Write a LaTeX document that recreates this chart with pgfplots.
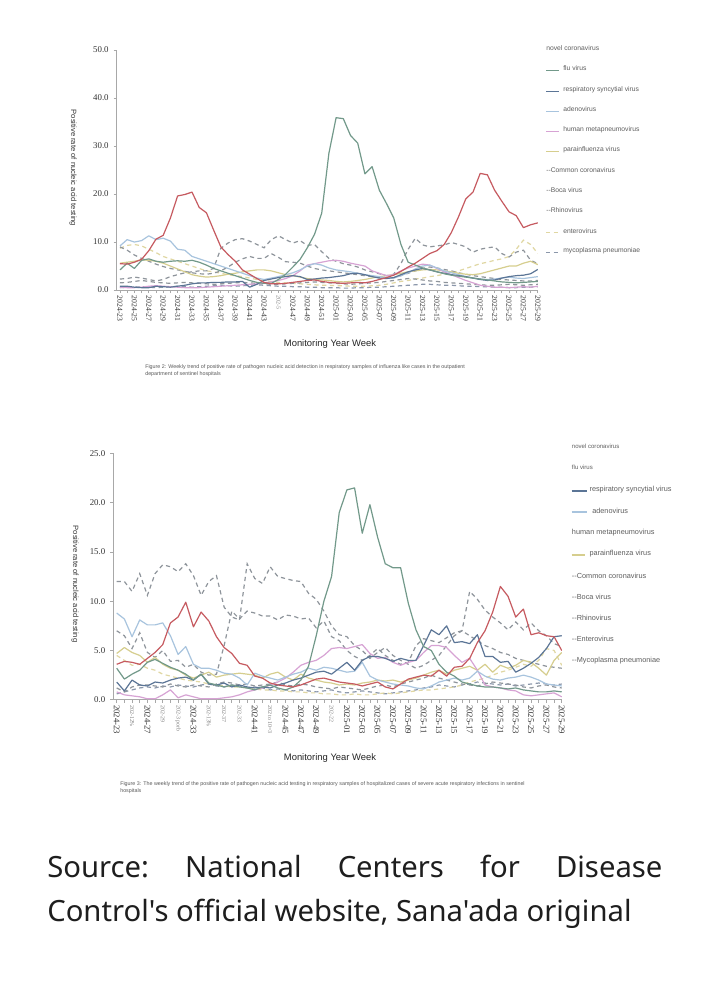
\documentclass[border=0pt]{standalone}
\usepackage{fontspec}
\setmainfont{Liberation Serif}
\setsansfont{Liberation Sans}
\newfontfamily\srcfont{Noto Sans}
\usepackage{pgfplots}
\pgfplotsset{compat=1.18}

\definecolor{cov}{HTML}{C65A60}
\definecolor{flu}{HTML}{72998A}
\definecolor{rsv}{HTML}{5B7596}
\definecolor{adv}{HTML}{A8C4DE}
\definecolor{hmpv}{HTML}{D7A3D4}
\definecolor{piv}{HTML}{D6CE8E}
\definecolor{dsh}{HTML}{8E949B}
\definecolor{ev}{HTML}{E0D7A2}
\definecolor{mp}{HTML}{8B97AA}
\definecolor{axgray}{HTML}{A8A8A8}
\definecolor{lgtxt}{HTML}{5E5E5E}
\definecolor{srccol}{HTML}{1E1E1E}

\newcommand\odd{\color{black!50}\fontsize{4.2}{5}\selectfont}
\newcommand\lgf{\sffamily\fontsize{4.8}{5.5}\selectfont}
\newcommand\lgb{\sffamily\fontsize{5.2}{6}\selectfont}
\newcommand\lgs{\sffamily\fontsize{4.3}{5}\selectfont}

\pgfplotsset{
  table/wk/.style={x expr=\coordindex, y index=0, header=false, row sep=\\},
  sl/.style={line width=0.85pt, line join=round},
  dl/.style={line width=0.85pt, dash pattern=on 3pt off 2.5pt},
  panel/.style={
    scale only axis, anchor=south west,
    axis x line*=bottom, axis y line*=left,
    axis line style={axgray, line width=0.6pt},
    tick style={axgray, line width=0.5pt},
    tick align=outside, major tick length=2.2pt, minor tick length=2.2pt,
    ymin=0, xmax=58, no markers,
    xtick={0,2,...,58}, minor xtick={1,3,...,57},
    yticklabel style={font=\fontsize{6.3}{7}\selectfont, text=black!80,
      /pgf/number format/.cd, fixed, fixed zerofill, precision=1, assume math mode=true},
    xticklabel style={rotate=-90, anchor=west, inner sep=1.5pt, text=black!80},
  },
}

\begin{document}
\begin{tikzpicture}
\begin{scope}[x=0.025cm, y=-0.025cm, shift={(0,25cm)}]
\path[use as bounding box, fill=white] (0,0) rectangle (719,1000);

% axis titles
\node[rotate=-90, font=\sffamily\fontsize{5.4}{6}\selectfont, text=black!80] at (73,168) {Positive rate of nucleic acid testing};
\node[font=\sffamily\fontsize{6.7}{8}\selectfont, text=black!85] at (330,344) {Monitoring Year Week};
\node[rotate=-90, font=\sffamily\fontsize{5.4}{6}\selectfont, text=black!80] at (75,584) {Positive rate of nucleic acid testing};
\node[font=\sffamily\fontsize{6.7}{8}\selectfont, text=black!85] at (330,758) {Monitoring Year Week};

% captions
\node[anchor=west, inner sep=0, font=\sffamily\fontsize{3.8}{4.5}\selectfont, text=black!65] at (145,367) {Figure 2: Weekly trend of positive rate of pathogen nucleic acid detection in respiratory samples of influenza like cases in the outpatient};
\node[anchor=west, inner sep=0, font=\sffamily\fontsize{3.8}{4.5}\selectfont, text=black!65] at (145,374) {department of sentinel hospitals};
\node[anchor=west, inner sep=0, font=\sffamily\fontsize{3.8}{4.5}\selectfont, text=black!65] at (120,784) {Figure 3: The weekly trend of the positive rate of pathogen nucleic acid testing in respiratory samples of hospitalized cases of severe acute respiratory infections in sentinel};
\node[anchor=west, inner sep=0, font=\sffamily\fontsize{3.8}{4.5}\selectfont, text=black!65] at (120,791) {hospitals};

% top legend
\begin{scope}[every node/.style={anchor=west, inner sep=0, text=lgtxt, font=\lgf}]
\node at (546,48.3) {novel coronavirus};
\draw[flu, line width=0.8pt] (546,70.5) -- (559,70.5); \node at (563,68.3) {flu virus};
\draw[rsv, line width=0.8pt] (546,91.5) -- (559,91.5); \node at (563,89.3) {respiratory syncytial virus};
\draw[adv, line width=0.8pt] (546,111.2) -- (559,111.2); \node at (563,109) {adenovirus};
\draw[hmpv, line width=0.8pt] (546,131.5) -- (559,131.5); \node at (563,129.3) {human metapneumovirus};
\draw[piv, line width=0.8pt] (546,151.5) -- (559,151.5); \node at (563,149.3) {parainfluenza virus};
\node at (546,170) {-{}-Common coronavirus};
\node at (546,190) {-{}-Boca virus};
\node at (546,210) {-{}-Rhinovirus};
\draw[ev, line width=0.8pt, dash pattern=on 3pt off 2.5pt] (546,232.5) -- (559,232.5); \node at (563,230.7) {enterovirus};
\draw[mp, line width=0.8pt, dash pattern=on 3pt off 2.5pt] (546,252.5) -- (559,252.5); \node at (563,250.7) {mycoplasma pneumoniae};
\end{scope}

% bottom legend
\begin{scope}[every node/.style={anchor=west, inner sep=0, text=lgtxt, font=\lgb}]
\node[font=\lgs] at (571.7,446) {novel coronavirus};
\node[font=\lgs] at (571.7,467.7) {flu virus};
\draw[rsv, line width=0.8pt] (571.7,491) -- (586.5,491); \node at (589.3,490) {respiratory syncytial virus};
\draw[adv, line width=0.8pt] (571.7,512) -- (586.5,512); \node at (592,511) {adenovirus};
\node at (571.7,532.7) {human metapneumovirus};
\draw[piv, line width=0.8pt] (571.7,555) -- (585,555); \node at (589.3,554) {parainfluenza virus};
\node at (571.7,575.7) {-{}-Common coronavirus};
\node at (571.7,596.7) {-{}-Boca virus};
\node at (571.7,618.3) {-{}-Rhinovirus};
\node at (571.7,639.3) {-{}-Enterovirus};
\node at (571.7,660.7) {-{}-Mycoplasma pneumoniae};
\end{scope}

% source line
\node[anchor=base west, inner sep=0, font=\srcfont\fontsize{20.8}{24}\selectfont, text=srccol] at (47,878) {\frenchspacing\makebox[15.375cm][s]{Source: National Centers for Disease}};
\node[anchor=base west, inner sep=0, font=\srcfont\fontsize{20.8}{24}\selectfont, text=srccol] at (47,922) {Control's official website, Sana'ada original};
\end{scope}

% ---------- Figure 2: outpatient ILI ----------
\begin{axis}[panel, at={(2.9175cm,17.75cm)}, width=10.525cm, height=6cm,
  xmin=-0.45, ymax=50, ytick={0,10,...,50},
  xticklabel style={font=\fontsize{5.5}{6}\selectfont},
  xticklabels={2024-23,2024-25,2024-27,2024-29,2024-31,2024-33,2024-35,2024-37,2024-39,2024-41,2024-43,{\odd 202-5},2024-47,2024-49,2024-51,2025-01,2025-03,2025-05,2025-07,2025-09,2025-11,2025-13,2025-15,2025-17,2025-19,2025-21,2025-23,2025-25,2025-27,2025-29}]
% mycoplasma pneumoniae
\addplot[mp, dl] table[wk] {0.5\\0.6\\0.6\\0.7\\0.6\\0.5\\0.6\\0.7\\0.8\\0.7\\0.6\\0.7\\0.8\\0.9\\1.0\\0.9\\0.8\\0.9\\1.0\\1.1\\1.0\\0.9\\0.8\\0.8\\0.7\\0.7\\0.6\\0.6\\0.5\\0.5\\0.5\\0.4\\0.4\\0.5\\0.5\\0.6\\0.6\\0.7\\0.8\\0.9\\1.0\\1.1\\1.2\\1.2\\1.1\\1.0\\1.0\\0.9\\0.8\\0.8\\0.7\\0.7\\0.6\\0.6\\0.5\\0.5\\0.6\\0.6\\0.7\\};
% enterovirus
\addplot[ev, dl] table[wk] {8.7\\9.3\\9.5\\9.2\\8.5\\7.8\\7.0\\6.5\\6.0\\5.5\\5.0\\4.5\\4.0\\3.8\\3.5\\3.2\\3.0\\2.8\\2.5\\2.2\\2.0\\1.8\\1.6\\1.5\\1.4\\1.3\\1.2\\1.1\\1.0\\1.0\\0.9\\0.9\\0.8\\0.8\\0.8\\0.9\\1.0\\1.2\\1.5\\1.8\\2.0\\2.3\\2.5\\2.8\\3.0\\3.3\\3.6\\4.0\\4.5\\5.0\\5.5\\5.8\\6.2\\6.5\\7.0\\8.5\\10.4\\9.5\\7.6\\};
% Boca virus
\addplot[dsh, dl] table[wk] {1.5\\1.6\\1.8\\2.0\\1.8\\1.6\\1.5\\1.4\\1.5\\1.6\\1.5\\1.4\\1.3\\1.2\\1.3\\1.4\\1.5\\1.6\\1.5\\1.4\\1.3\\1.2\\1.2\\1.3\\1.4\\1.5\\1.6\\1.7\\1.6\\1.5\\1.4\\1.3\\1.2\\1.3\\1.4\\1.5\\1.6\\1.8\\2.0\\2.2\\2.4\\2.3\\2.1\\1.9\\1.8\\1.6\\1.5\\1.4\\1.3\\1.2\\1.1\\1.0\\1.0\\1.1\\1.2\\1.1\\1.0\\1.1\\1.2\\};
% common coronavirus
\addplot[dsh, dl] table[wk] {9.0\\8.3\\7.3\\6.6\\6.0\\5.4\\4.9\\4.5\\4.2\\3.9\\3.6\\3.4\\3.3\\3.5\\4.0\\4.8\\5.8\\6.5\\7.0\\6.6\\6.6\\7.6\\6.8\\5.9\\5.8\\5.6\\5.0\\4.5\\4.2\\4.0\\3.8\\3.6\\3.4\\3.2\\3.0\\2.8\\2.6\\2.5\\2.6\\3.0\\3.5\\4.0\\4.5\\4.8\\4.6\\4.3\\4.0\\3.6\\3.3\\3.0\\2.8\\2.6\\2.4\\2.2\\2.1\\2.0\\1.9\\1.9\\2.0\\};
% rhinovirus
\addplot[dsh, dl] table[wk] {2.3\\2.4\\2.7\\2.5\\2.2\\1.9\\2.2\\2.8\\3.2\\3.6\\3.8\\4.0\\4.0\\4.5\\8.7\\9.8\\10.5\\10.7\\10.2\\9.5\\8.8\\10.5\\11.3\\10.5\\9.8\\10.3\\9.3\\9.5\\8.0\\6.6\\6.0\\5.5\\5.2\\4.8\\4.2\\3.8\\3.4\\3.0\\3.3\\5.5\\8.5\\10.8\\9.4\\9.0\\9.2\\9.4\\9.9\\9.5\\9.0\\7.9\\8.5\\8.8\\9.0\\7.6\\6.9\\7.9\\8.3\\6.2\\5.5\\};
% parainfluenza virus
\addplot[piv, sl] table[wk] {5.6\\5.8\\6.0\\6.3\\6.2\\6.0\\5.6\\5.0\\4.4\\3.8\\3.2\\2.9\\2.7\\2.8\\3.0\\3.3\\3.5\\3.8\\4.0\\4.2\\4.2\\4.0\\3.6\\3.2\\3.0\\2.7\\2.4\\2.2\\2.1\\2.0\\1.8\\1.7\\1.8\\2.0\\2.2\\2.5\\2.8\\3.0\\3.2\\3.5\\3.8\\4.0\\4.2\\4.3\\4.2\\4.0\\3.8\\3.5\\3.3\\3.2\\3.4\\3.8\\4.2\\4.6\\5.0\\5.0\\5.6\\6.0\\5.3\\};
% human metapneumovirus
\addplot[hmpv, sl] table[wk] {0.6\\0.5\\0.5\\0.6\\0.8\\0.9\\0.8\\0.7\\0.6\\0.5\\0.5\\0.5\\0.6\\0.7\\0.8\\0.9\\1.0\\1.1\\1.2\\1.3\\1.5\\1.7\\2.0\\2.4\\3.0\\4.0\\5.2\\5.5\\5.8\\6.1\\6.2\\6.0\\5.6\\5.3\\5.0\\4.0\\3.5\\3.0\\3.2\\4.0\\4.6\\5.0\\5.4\\5.2\\4.5\\3.8\\3.2\\2.6\\2.0\\1.5\\1.0\\0.8\\0.6\\0.6\\0.5\\0.6\\0.7\\0.6\\0.8\\};
% adenovirus
\addplot[adv, sl] table[wk] {9.2\\10.5\\10.0\\10.3\\11.3\\10.5\\10.8\\10.2\\8.5\\8.3\\7.0\\6.5\\6.0\\5.5\\5.0\\4.5\\4.0\\3.5\\3.0\\2.5\\2.2\\2.5\\2.8\\3.2\\3.6\\4.2\\5.0\\5.5\\5.2\\4.6\\4.2\\4.0\\3.8\\3.5\\3.2\\3.0\\2.8\\2.6\\2.5\\3.0\\3.6\\4.4\\5.0\\5.2\\4.6\\4.0\\3.6\\3.2\\2.8\\2.5\\2.3\\2.2\\2.3\\2.5\\2.7\\2.5\\2.4\\2.6\\2.8\\};
% respiratory syncytial virus
\addplot[rsv, sl] table[wk] {0.8\\0.8\\0.6\\0.5\\0.5\\0.8\\0.7\\0.6\\0.8\\1.0\\1.3\\1.5\\1.5\\1.6\\1.6\\1.7\\1.7\\1.8\\0.6\\1.2\\2.0\\2.3\\2.6\\2.8\\3.0\\2.8\\2.2\\2.3\\2.5\\2.6\\2.8\\3.0\\3.4\\3.5\\3.2\\2.8\\2.5\\2.4\\2.6\\3.2\\3.8\\4.2\\4.5\\4.2\\3.8\\3.5\\3.2\\3.0\\2.8\\2.5\\2.2\\2.0\\2.1\\2.5\\2.8\\3.0\\3.1\\3.4\\4.3\\};
% flu virus
\addplot[flu, sl] table[wk] {4.2\\5.6\\4.5\\6.2\\6.5\\6.0\\5.8\\6.0\\6.1\\6.0\\6.2\\5.8\\5.2\\4.5\\4.0\\3.5\\3.0\\2.5\\2.0\\1.6\\1.4\\1.4\\2.2\\3.3\\4.8\\6.4\\8.8\\11.6\\16.0\\28.5\\35.9\\35.7\\32.2\\30.6\\24.2\\25.7\\20.8\\18.0\\15.0\\9.5\\5.8\\5.2\\4.6\\4.2\\3.8\\3.4\\3.1\\2.9\\2.7\\2.5\\2.3\\2.1\\1.9\\1.7\\1.6\\1.5\\1.6\\1.7\\1.8\\};
% novel coronavirus
\addplot[cov, sl] table[wk] {5.5\\5.4\\5.8\\6.4\\8.2\\10.6\\11.4\\15.0\\19.6\\19.9\\20.4\\17.2\\16.1\\12.5\\9.0\\7.4\\6.0\\4.2\\3.3\\2.4\\1.6\\1.3\\1.3\\1.4\\1.6\\1.8\\2.0\\2.1\\1.8\\1.6\\1.5\\1.4\\1.5\\1.6\\1.5\\1.8\\2.2\\2.6\\3.1\\3.9\\4.8\\5.6\\6.6\\7.6\\8.2\\9.5\\12.0\\15.3\\19.0\\20.4\\24.3\\24.0\\20.8\\18.5\\16.3\\15.5\\13.0\\13.6\\14.0\\};
\end{axis}

% ---------- Figure 3: hospitalized SARI ----------
\begin{axis}[panel, at={(2.8325cm,7.51cm)}, width=11.2075cm, height=6.1575cm,
  xmin=-0.44, ymax=25, ytick={0,5,...,25},
  xticklabel style={font=\fontsize{6.2}{7}\selectfont},
  xticklabels={2024-23,{\odd 202-12\%},2024-27,{\odd 202-29},{\odd 202-3 porb},2024-33,{\odd 202-13\%},{\odd 202-37},{\odd 202-33},2024-41,{\odd 202 to 10=3},2024-45,2024-47,2024-49,{\odd 202-22},2025-01,2025-03,2025-05,2025-07,2025-09,2025-11,2025-13,2025-15,2025-17,2025-19,2025-21,2025-23,2025-25,2025-27,2025-29}]
% mycoplasma pneumoniae
\addplot[mp, dl] table[wk] {0.6\\0.8\\1.0\\1.2\\1.3\\1.2\\1.4\\1.3\\1.5\\1.4\\1.3\\1.5\\1.6\\1.4\\1.3\\1.5\\1.4\\1.2\\1.3\\1.2\\1.0\\1.1\\1.0\\0.9\\1.0\\0.9\\0.8\\0.9\\1.0\\0.8\\0.7\\0.8\\0.9\\0.8\\0.7\\0.6\\0.7\\0.8\\0.9\\1.0\\1.2\\1.3\\1.5\\1.4\\1.3\\1.5\\1.6\\1.8\\1.7\\1.6\\1.5\\1.6\\1.4\\1.5\\1.6\\1.7\\1.6\\1.5\\1.6\\};
% enterovirus
\addplot[ev, dl] table[wk] {4.5\\4.0\\3.5\\3.6\\3.2\\3.0\\2.6\\2.4\\2.2\\2.0\\1.9\\1.8\\1.6\\1.5\\1.4\\1.3\\1.3\\1.2\\1.1\\1.0\\1.0\\0.9\\0.9\\0.8\\0.8\\0.7\\0.7\\0.6\\0.6\\0.5\\0.5\\0.6\\0.5\\0.5\\0.6\\0.7\\0.6\\0.7\\0.8\\0.9\\1.0\\1.0\\1.1\\1.2\\1.3\\1.5\\1.8\\2.0\\2.2\\2.5\\2.8\\3.0\\3.3\\3.6\\3.4\\4.0\\5.2\\5.0\\3.5\\};
% Boca virus
\addplot[dsh, dl] table[wk] {1.2\\0.8\\1.3\\1.5\\1.5\\1.4\\1.3\\1.6\\1.4\\1.3\\1.5\\1.4\\1.3\\1.6\\1.8\\1.7\\1.5\\1.6\\1.4\\1.5\\1.6\\1.8\\1.5\\1.4\\1.6\\1.5\\1.3\\1.2\\1.1\\1.3\\1.2\\1.1\\1.0\\1.2\\1.4\\1.5\\1.3\\1.6\\1.8\\2.0\\2.2\\2.5\\2.2\\2.0\\1.8\\1.6\\1.5\\1.4\\1.6\\1.8\\1.7\\1.6\\1.5\\1.3\\1.2\\1.4\\1.5\\1.3\\1.2\\};
% common coronavirus
\addplot[dsh, dl] table[wk] {7.0\\6.5\\5.2\\6.8\\4.8\\4.3\\5.0\\3.9\\4.0\\3.3\\3.6\\2.8\\2.5\\2.6\\5.5\\9.0\\8.2\\9.0\\8.8\\8.5\\8.5\\8.1\\8.6\\8.5\\8.2\\8.3\\7.3\\8.0\\6.4\\6.0\\5.0\\4.4\\4.0\\4.5\\5.2\\4.5\\4.0\\3.6\\3.8\\5.5\\6.2\\6.0\\5.8\\6.3\\6.8\\7.0\\6.5\\6.0\\5.5\\5.2\\4.8\\4.6\\4.2\\4.0\\3.8\\3.6\\3.4\\3.3\\3.2\\};
% rhinovirus
\addplot[dsh, dl] table[wk] {12.0\\12.0\\11.0\\12.8\\10.6\\12.8\\13.7\\13.5\\13.0\\13.8\\12.6\\10.6\\12.0\\12.6\\9.4\\8.4\\8.1\\13.8\\12.3\\11.8\\13.5\\12.5\\12.3\\12.1\\12.0\\10.8\\10.2\\9.0\\7.5\\6.6\\6.4\\5.5\\5.0\\4.2\\4.8\\5.3\\4.5\\4.0\\3.6\\3.2\\3.5\\4.0\\4.5\\5.5\\6.5\\7.0\\11.0\\10.2\\9.1\\8.4\\7.8\\7.1\\7.9\\7.1\\7.8\\7.0\\6.5\\5.7\\5.4\\};
% parainfluenza virus
\addplot[piv, sl] table[wk] {4.7\\5.3\\4.8\\4.5\\3.8\\4.3\\3.6\\3.2\\3.0\\2.5\\2.2\\2.5\\2.8\\2.3\\2.5\\2.6\\2.7\\2.6\\2.5\\2.2\\2.6\\2.8\\2.3\\2.0\\2.6\\2.2\\2.0\\1.8\\1.7\\1.5\\1.6\\1.5\\1.7\\1.8\\2.0\\1.9\\2.0\\1.8\\2.0\\2.2\\2.5\\2.8\\3.0\\2.6\\3.0\\3.2\\3.4\\3.0\\3.6\\2.8\\3.5\\3.2\\3.5\\4.0\\3.8\\3.2\\2.5\\4.0\\4.8\\};
% human metapneumovirus
\addplot[hmpv, sl] table[wk] {0.8\\0.5\\0.4\\0.3\\0.1\\0.1\\0.5\\1.0\\0.2\\0.5\\0.3\\0.1\\0.1\\0.1\\0.2\\0.3\\0.5\\0.8\\1.0\\1.2\\1.5\\1.8\\2.2\\2.8\\3.5\\3.8\\4.0\\4.5\\5.2\\5.3\\5.2\\5.4\\5.6\\4.7\\4.2\\4.3\\3.8\\3.5\\3.8\\4.0\\4.8\\5.5\\5.5\\5.3\\4.5\\3.8\\4.2\\3.0\\1.5\\1.3\\1.2\\1.0\\0.9\\0.5\\0.4\\0.5\\0.6\\0.7\\0.3\\};
% adenovirus
\addplot[adv, sl] table[wk] {8.8\\8.2\\6.4\\8.1\\7.6\\7.6\\7.8\\6.5\\4.6\\5.4\\3.6\\3.2\\3.2\\3.0\\2.7\\2.6\\2.2\\1.5\\2.7\\2.4\\2.2\\2.0\\2.3\\2.6\\2.8\\3.2\\3.0\\3.3\\3.2\\3.0\\2.8\\2.9\\3.8\\2.4\\2.0\\1.8\\1.6\\1.5\\1.4\\1.2\\1.1\\1.4\\1.8\\2.0\\2.2\\2.0\\2.2\\2.9\\2.4\\2.1\\2.0\\2.2\\2.3\\2.5\\2.3\\2.0\\1.6\\1.5\\1.4\\};
% respiratory syncytial virus
\addplot[rsv, sl] table[wk] {1.8\\0.9\\2.0\\1.5\\1.4\\1.8\\1.7\\2.0\\2.2\\2.3\\2.0\\2.6\\1.6\\1.5\\1.7\\1.3\\1.5\\1.3\\1.2\\1.3\\1.2\\1.5\\1.7\\2.0\\2.2\\2.5\\2.8\\2.9\\2.6\\3.2\\3.8\\3.0\\4.0\\4.4\\4.4\\4.2\\3.9\\4.2\\4.0\\4.0\\5.5\\7.1\\6.6\\7.5\\5.8\\5.9\\5.7\\6.6\\4.4\\4.4\\3.8\\3.9\\2.8\\3.2\\3.7\\4.3\\5.2\\6.4\\6.5\\};
% flu virus
\addplot[flu, sl] table[wk] {3.2\\2.1\\2.6\\3.0\\3.8\\4.1\\3.7\\3.3\\3.0\\2.6\\2.0\\2.6\\1.7\\1.5\\1.3\\1.5\\1.3\\1.2\\1.0\\1.3\\1.5\\1.2\\1.0\\1.3\\2.0\\3.4\\6.5\\10.0\\12.5\\19.0\\21.3\\21.5\\16.9\\19.8\\16.5\\13.8\\13.4\\13.4\\9.8\\7.1\\5.4\\5.0\\3.6\\2.8\\2.4\\1.8\\1.6\\1.4\\1.3\\1.3\\1.2\\1.1\\1.2\\1.0\\0.9\\0.8\\0.8\\0.9\\0.8\\};
% novel coronavirus
\addplot[cov, sl] table[wk] {3.6\\3.9\\3.8\\3.6\\4.2\\4.8\\5.6\\7.8\\8.4\\9.9\\7.4\\8.9\\8.0\\6.4\\5.3\\4.7\\3.7\\3.5\\2.4\\2.2\\1.7\\1.5\\1.4\\1.3\\1.5\\1.8\\2.1\\2.2\\2.0\\1.8\\1.7\\1.6\\1.4\\1.6\\1.8\\1.3\\1.1\\1.6\\2.1\\2.3\\2.5\\2.4\\3.0\\2.4\\3.3\\3.4\\4.2\\5.8\\7.0\\8.9\\11.5\\10.5\\8.4\\9.2\\6.6\\6.8\\6.5\\6.4\\5.0\\};
\end{axis}
\end{tikzpicture}
\end{document}
